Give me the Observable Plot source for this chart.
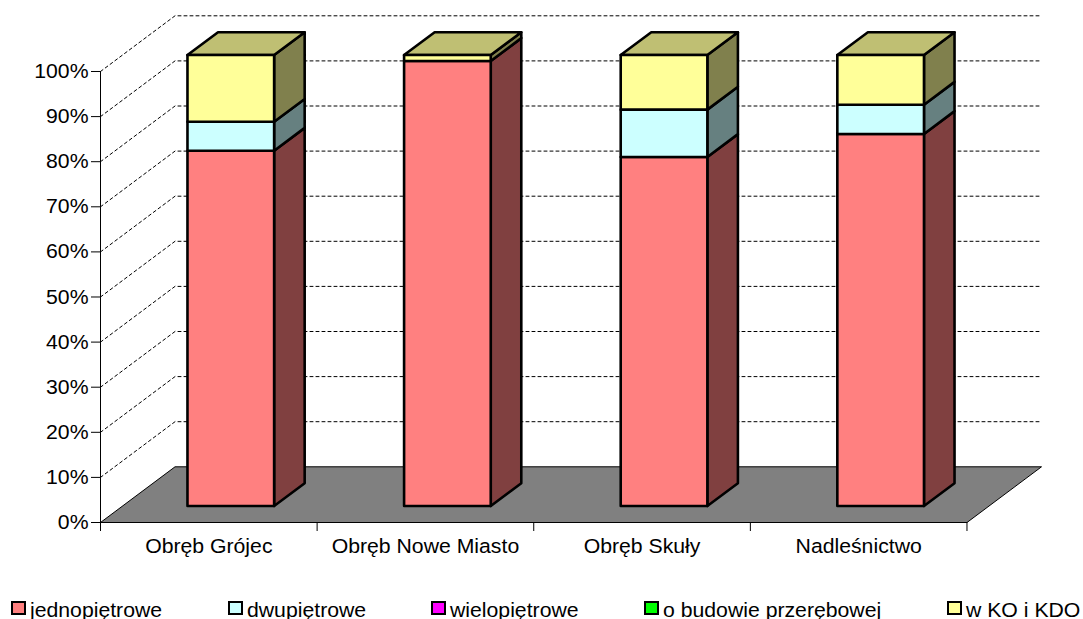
<!DOCTYPE html>
<html><head><meta charset="utf-8">
<script src="https://cdn.jsdelivr.net/npm/d3@7"></script>
<script src="https://cdn.jsdelivr.net/npm/@observablehq/plot@0.6"></script>
<style>
html,body{margin:0;padding:0;background:#fff;overflow:hidden}
#wrap{position:relative;width:1083px;height:619px;font-family:"Liberation Sans",Arial,sans-serif}
#wrap svg{display:block;position:absolute;left:0;top:0;overflow:visible}
.lg{position:absolute;top:597px;height:22px;line-height:22px;font-size:20.5px;color:#000;white-space:nowrap}
.lg i{position:absolute;left:0;top:4px;width:11px;height:10px;border:2px solid #000;box-sizing:content-box}
.lg span{position:absolute;left:19px;top:2px;transform:scaleX(1.035);transform-origin:0 50%}
</style></head><body><div id="wrap"></div>
<script>
const categories = ["Obręb Grójec","Obręb Nowe Miasto","Obręb Skuły","Nadleśnictwo"];
const seriesNames = ["jednopiętrowe","dwupiętrowe","wielopiętrowe","o budowie przerębowej","w KO i KDO"];
const jednopietrowe = [78.8, 98.7, 77.4, 82.5];
const dwupietrowe   = [6.4, 0, 10.5, 6.5];
const wielopietrowe = [0, 0, 0, 0];
const przerebowe    = [0, 0, 0, 0];
const wKoIKdo       = [14.8, 1.3, 12.1, 11.0];
const seriesValues = [jednopietrowe, dwupietrowe, wielopietrowe, przerebowe, wKoIKdo];
const frontColors = ["#FF8080","#CCFFFF","#FF00FF","#00FF00","#FFFF99"];
const sideColors  = ["#804040","#668080","#800080","#008000","#80804D"];
const topColors   = ["#BF6060","#99BFBF","#BF00BF","#00BF00","#BFBF73"];
const yTicks = [0,10,20,30,40,50,60,70,80,90,100];
const legendLeft = [11,228,431,644,947];

// oblique projection: depth d in [0,1] shifts a point right and up
const DX = 0.344, DY = 12.35;
const barW = 0.4, d0 = 0.295, d1 = 0.705;
const P = (x,y,d)=>({x:x+d*DX, y:y+d*DY});

const polys = [];
function poly(pts, fill, key){ [...pts, pts[0]].forEach(p=>polys.push({...p, fill, key})); }
categories.forEach((c,i)=>{
  const xa = i+0.5-barW/2, xb = xa+barW;
  let base = 0;
  const total = d3.sum(seriesValues, s=>s[i]);
  seriesValues.forEach((s,k)=>{
    const v = s[i];
    if(!v) return;
    const t = base+v;
    poly([P(xb,base,d0),P(xb,base,d1),P(xb,t,d1),P(xb,t,d0)], sideColors[k], `s${i}-${k}`);
    if(t >= total-1e-6) poly([P(xa,t,d0),P(xb,t,d0),P(xb,t,d1),P(xa,t,d1)], topColors[k], `t${i}-${k}`);
    poly([P(xa,base,d0),P(xb,base,d0),P(xb,t,d0),P(xa,t,d0)], frontColors[k], `f${i}-${k}`);
    base = t;
  });
});
const n = categories.length;
const floor = [P(0,0,0),P(n,0,0),P(n,0,1),P(0,0,1),P(0,0,0)];
const gridPts = yTicks.slice(1).flatMap(v=>[
  {...P(0,v,0),v},{...P(0,v,1),v},{...P(n,v,1),v}
]);

const chart = Plot.plot({
  width:1083, height:585,
  marginLeft:100, marginRight:42, marginTop:15, marginBottom:63,
  x:{domain:[0,n+DX], range:[100,1041]},
  y:{domain:[0,100+DY], range:[522,15.3]},
  color:{type:"identity"},
  style:{fontFamily:'"Liberation Sans",Arial,sans-serif', fontSize:"20.5px", color:"#000", background:"transparent", overflow:"visible"},
  marks:[
    Plot.line(gridPts,{x:"x",y:"y",z:"v",stroke:"#000",strokeWidth:1,strokeDasharray:"3,3"}),
    Plot.line(floor,{x:"x",y:"y",fill:"#808080",stroke:"#000",strokeWidth:1}),
    Plot.line(polys,{x:"x",y:"y",z:"key",fill:"fill",stroke:"#000",strokeWidth:2.6,strokeLinejoin:"round"}),
    Plot.axisY({ticks:yTicks,tickSize:9,tickPadding:3,tickFormat:d=>d+"%",label:null,anchor:"left",stroke:"#000",strokeOpacity:1,fontSize:20.5}),
    Plot.ruleX([0],{y1:0,y2:100,stroke:"#000"}),
    Plot.ruleY([0],{x1:0,x2:n,stroke:"#000"}),
    Plot.axisX({ticks:d3.range(n+1),tickSize:9,tickFormat:()=>"",label:null,anchor:"bottom",stroke:"#000",strokeOpacity:1}),
    Plot.axisX({ticks:categories.map((c,i)=>i+0.5),tickSize:0,tickPadding:16,tickFormat:d=>categories[Math.floor(d)],label:null,anchor:"bottom",fontSize:20.5})
  ]
});
const wrap = document.getElementById("wrap");
wrap.appendChild(chart);
chart.querySelectorAll("text").forEach(t=>{
  const L = t.getComputedTextLength();
  if(L>0){ t.setAttribute("textLength",L*1.035); t.setAttribute("lengthAdjust","spacingAndGlyphs"); }
});
seriesNames.forEach((name,k)=>{
  const el=document.createElement("div"); el.className="lg"; el.style.left=legendLeft[k]+"px";
  const sw=document.createElement("i"); sw.style.background=frontColors[k];
  const tx=document.createElement("span"); tx.textContent=name;
  el.append(sw,tx); wrap.appendChild(el);
});
</script></body></html>
